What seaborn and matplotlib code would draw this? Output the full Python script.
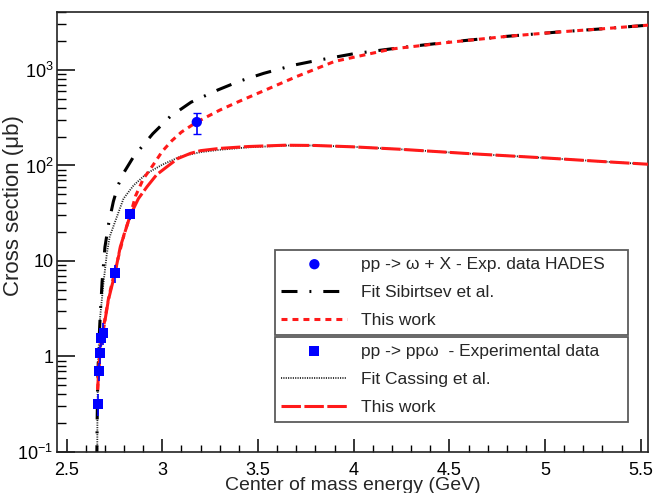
import matplotlib
matplotlib.use("Agg")
import matplotlib.pyplot as plt
import matplotlib.ticker as mticker
import numpy as np
import pandas as pd
import seaborn as sns

# --- data ---
sib_E = [2.6575, 2.659, 2.662, 2.667, 2.675, 2.685, 2.70, 2.72, 2.744, 2.77, 2.80, 2.85,
         2.95, 3.04, 3.15, 3.29, 3.40, 3.53, 3.69, 3.80, 4.00, 4.25, 4.50, 4.80, 5.07, 5.30, 5.54]
sib_sig = [0.08, 0.2, 0.5, 1.2, 2.6, 6, 14, 25, 42, 63, 85, 124,
           215, 324, 460, 618, 760, 923, 1128, 1250, 1480, 1720, 1960, 2250, 2500, 2700, 2950]

incl_E = [2.662, 2.667, 2.675, 2.692, 2.72, 2.753, 2.80, 2.832, 2.86, 2.90, 2.95, 3.00, 3.05,
          3.10, 3.18, 3.30, 3.40, 3.55, 3.70, 3.90, 4.20, 4.50, 4.80, 5.07, 5.30, 5.54]
incl_sig = [0.45, 0.7, 1.2, 2.0, 4.2, 8, 19, 30, 48, 72, 100, 141, 182,
            224, 285, 380, 468, 631, 851, 1230, 1660, 1950, 2250, 2500, 2700, 2950]

excl_E = [2.662, 2.667, 2.675, 2.692, 2.718, 2.753, 2.78, 2.832, 2.875, 2.92, 2.97, 3.024,
          3.08, 3.147, 3.20, 3.30, 3.45, 3.64, 3.80, 3.99, 4.24, 4.58, 5.00, 5.30, 5.54]
excl_sig = [0.45, 0.7, 1.17, 1.9, 3.9, 7.5, 14, 30, 45, 60, 80, 97,
            118, 134, 143, 151, 158, 163, 162, 157, 148, 134, 120, 110, 103]

cass_E = [2.6595, 2.661, 2.665, 2.675, 2.692, 2.71, 2.725, 2.744, 2.797, 2.85, 2.92, 3.00,
          3.094, 3.20, 3.30, 3.45, 3.65, 3.80, 3.99, 4.24, 4.58, 5.00, 5.30, 5.54]
cass_sig = [0.08, 0.3, 1.0, 2.6, 5.8, 12, 18, 23, 45, 62, 83, 102,
            124, 138, 146, 155, 162, 162, 157, 148, 134, 120, 110, 103]

hades_E = [3.18]
hades_sig = [285]
hades_err = [72]

pp_E = [2.663, 2.670, 2.675, 2.678, 2.692, 2.753, 2.832]
pp_sig = [0.32, 0.71, 1.08, 1.56, 1.77, 7.5, 30.8]
pp_err = [0.08, 0.15, 0.25, 0.3, 0.45, 1.6, 4.0]

ytick_vals = [0.1, 1, 10, 100, 1000]
ytick_labels = [r"$10^{-1}$", "1", "10", r"$10^{2}$", r"$10^{3}$"]

labels = ["pp -> \u03c9 + X - Exp. data HADES", "Fit Sibirtsev et al.", "This work",
          "pp -> pp\u03c9  - Experimental data", "Fit Cassing et al.", "This work"]

# --- style ---
sns.set_theme(style="ticks")
plt.rcParams["font.family"] = ["Liberation Sans", "DejaVu Sans"]
plt.rcParams["mathtext.fontset"] = "custom"
plt.rcParams["mathtext.rm"] = "Liberation Sans"
plt.rcParams["mathtext.it"] = "Liberation Sans:italic"
plt.rcParams["lines.scale_dashes"] = False

fig = plt.figure(figsize=(6.57, 4.93), dpi=100)
ax = fig.add_axes([0.0875, 0.0832, 0.8988, 0.8925])

sns.lineplot(x=cass_E, y=cass_sig, ax=ax, color="#222222", linewidth=1.3,
             linestyle=(0, (0.8, 0.9)), label=labels[4], zorder=2)
sns.lineplot(x=excl_E, y=excl_sig, ax=ax, color="#ff1a1a", linewidth=2.2,
             linestyle=(0, (14, 2.5)), label=labels[5], zorder=3)
sns.lineplot(x=sib_E, y=sib_sig, ax=ax, color="black", linewidth=2.2,
             linestyle=(0, (11.5, 8.6, 1.4, 8.6)), label=labels[1], zorder=2)
sns.lineplot(x=incl_E, y=incl_sig, ax=ax, color="#ff1a1a", linewidth=2.2,
             linestyle=(0, (4.3, 3.6)), label=labels[2], zorder=3)

ax.errorbar(hades_E, hades_sig, yerr=hades_err, fmt="none", ecolor="#0000ff",
            elinewidth=1.2, capsize=3, zorder=4)
ax.errorbar(pp_E, pp_sig, yerr=pp_err, fmt="none", ecolor="#0000ff",
            elinewidth=1.2, capsize=0, zorder=4)
sns.scatterplot(x=hades_E, y=hades_sig, ax=ax, color="#0000ff", marker="o", s=55,
                edgecolor="none", label=labels[0], zorder=5)
sns.scatterplot(x=pp_E, y=pp_sig, ax=ax, color="#0000ff", marker="s", s=50,
                edgecolor="none", label=labels[3], zorder=5)

ax.set_yscale("log")
ax.set_xlim(2.452, 5.538)
ax.set_ylim(0.1, 4050)

ax.xaxis.set_major_locator(mticker.MultipleLocator(0.5))
ax.xaxis.set_minor_locator(mticker.MultipleLocator(0.1))
ax.xaxis.set_major_formatter(mticker.FuncFormatter(lambda v, p: f"{v:g}"))
ax.yaxis.set_major_locator(mticker.FixedLocator(ytick_vals))
ax.yaxis.set_major_formatter(mticker.FixedFormatter(ytick_labels))
ax.yaxis.set_minor_locator(mticker.LogLocator(base=10, subs=np.arange(2, 10)))
ax.yaxis.set_minor_formatter(mticker.NullFormatter())

ax.tick_params(axis="both", which="both", direction="in", top=False, right=False,
               colors="black", labelsize=13)
ax.tick_params(axis="x", which="major", length=9.4, width=1.1, pad=7)
ax.tick_params(axis="x", which="minor", length=4.7, width=1.0)
ax.tick_params(axis="y", which="major", length=12.7, width=1.1, pad=3)
ax.tick_params(axis="y", which="minor", length=6.4, width=1.0)
for sp in ax.spines.values():
    sp.set_linewidth(1.2)
    sp.set_color("#222222")

ax.set_xlabel("Center of mass energy (GeV)", fontsize=14, labelpad=-1)
ax.set_ylabel("Cross section (\u03bcb)", fontsize=16)
ax.yaxis.set_label_coords(-0.056, 0.561)

# --- two framed legends ---
handles, labs = ax.get_legend_handles_labels()
hmap = dict(zip(labs, handles))
h_excl = [h for h, l in zip(handles, labs) if l == "This work"]
leg1_h = [hmap[labels[0]], hmap[labels[1]], h_excl[1]]
leg2_h = [hmap[labels[3]], hmap[labels[4]], h_excl[0]]

common = dict(loc="upper left", mode="expand", fontsize=12.5, frameon=True, fancybox=False,
              handlelength=3.8, handletextpad=0.8, labelspacing=0.75, borderpad=0.38,
              borderaxespad=0, scatterpoints=1)
leg1 = ax.legend(leg1_h, labels[:3], bbox_to_anchor=(0.368, 0.459, 0.598, 0.0), **common)
leg1.get_frame().set_edgecolor("#333333")
leg1.get_frame().set_linewidth(1.3)
ax.add_artist(leg1)
leg2 = ax.legend(leg2_h, labels[3:], bbox_to_anchor=(0.368, 0.261, 0.598, 0.0), **common)
leg2.get_frame().set_edgecolor("#333333")
leg2.get_frame().set_linewidth(1.3)

fig.savefig("out.png", dpi=100)
